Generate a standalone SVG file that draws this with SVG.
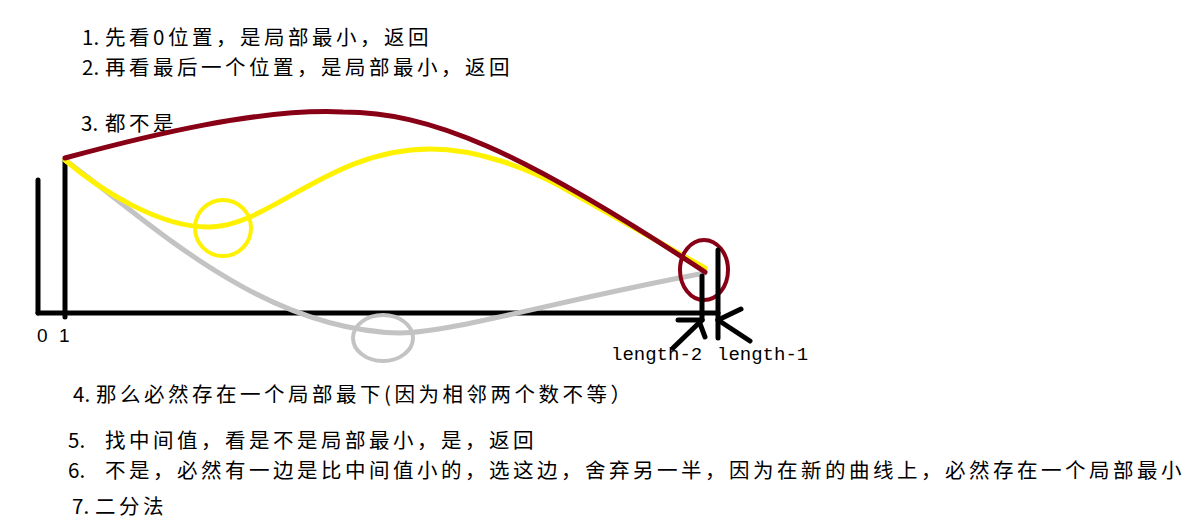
<svg xmlns="http://www.w3.org/2000/svg" width="1189" height="525" viewBox="0 0 1189 525">
<style>
.t{font-family:"Noto Sans CJK SC","Noto Sans",sans-serif;font-size:20.5px;fill:#000}
.c{letter-spacing:3.5px}
.ax{stroke:#000;stroke-width:5;fill:none;stroke-linecap:round}
.cur{fill:none;stroke-width:5;stroke-linecap:round}
.num{font-family:"Liberation Sans",Arial,sans-serif;font-size:19px;fill:#000}
.mono{font-family:"Liberation Mono","Courier New",monospace;font-size:19px;fill:#000}
</style>
<rect width="1189" height="525" fill="#fff"/>
<g id="steps-top">
<text class="t" y="45"><tspan x="82">1.</tspan><tspan x="105" class="c">先看0位置，是局部最小，返回</tspan></text>
<text class="t" y="75"><tspan x="82">2.</tspan><tspan x="105" class="c">再看最后一个位置，是局部最小，返回</tspan></text>
<text class="t" y="131"><tspan x="81">3.</tspan><tspan x="105" class="c">都不是</tspan></text>
</g>
<g id="axes">
<line class="ax" x1="38" y1="180" x2="38" y2="313"/>
<line class="ax" x1="38" y1="313" x2="718" y2="313"/>
<line class="ax" x1="65" y1="160" x2="65" y2="317"/>
<text class="num" x="37" y="342">0</text>
<text class="num" x="59" y="342">1</text>
</g>
<g id="curves">
<path class="cur" stroke="#c3c3c3" stroke-width="4" d="M65,160 C150,222 260,330 400,333 C450,333 560,300 705,273"/>
<ellipse cx="383" cy="338" rx="30" ry="23" fill="none" stroke="#c3c3c3" stroke-width="4"/>
<path class="cur" stroke="#fff200" d="M65,160 C100,190 160,228 210,227 C270,226 330,149 430,149 C480,149 530,170 560,186 L705,268"/>
<circle cx="223" cy="228" r="28" fill="none" stroke="#fff200" stroke-width="4"/>
<path class="cur" stroke="#880015" d="M65,158 C150,135 260,108 343,112 C430,112 520,150 705,272"/>
<ellipse cx="704" cy="270" rx="24" ry="30" fill="none" stroke="#880015" stroke-width="4"/>
</g>
<g id="markers">
<line class="ax" x1="702" y1="276" x2="702" y2="320"/>
<line class="ax" x1="718" y1="250" x2="718" y2="338"/>
<line class="ax" x1="678" y1="320" x2="702" y2="320"/>
<line class="ax" x1="702" y1="320" x2="673" y2="348"/>
<line class="ax" x1="699" y1="321" x2="705" y2="337"/>
<line class="ax" x1="718" y1="320" x2="741" y2="309"/>
<line class="ax" x1="718" y1="320" x2="750" y2="341"/>
<text class="mono" x="611" y="360">length-2</text>
<text class="mono" x="717" y="360">length-1</text>
</g>
<g id="steps-bottom">
<text class="t" y="402"><tspan x="73">4.</tspan><tspan x="96" class="c">那么必然存在一个局部最下(因为相邻两个数不等）</tspan></text>
<text class="t" y="448"><tspan x="68">5.</tspan><tspan x="105" class="c">找中间值，看是不是局部最小，是，返回</tspan></text>
<text class="t" y="478"><tspan x="68">6.</tspan><tspan x="105" class="c">不是，必然有一边是比中间值小的，选这边，舍弃另一半，因为在新的曲线上，必然存在一个局部最小</tspan></text>
<text class="t" y="514"><tspan x="72">7.</tspan><tspan x="95" class="c">二分法</tspan></text>
</g>
</svg>
